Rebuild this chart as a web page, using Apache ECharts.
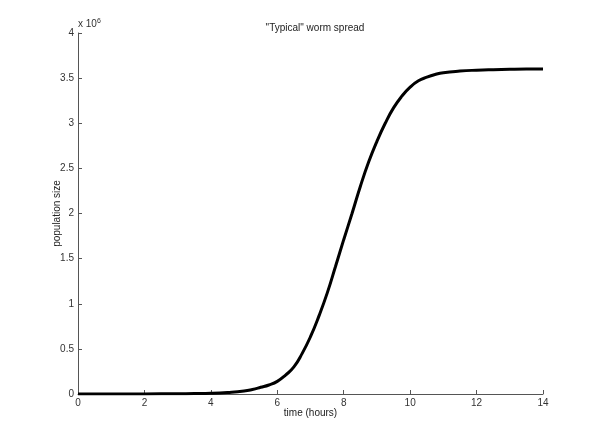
<!DOCTYPE html>
<html>
<head>
<meta charset="utf-8">
<script src="https://cdn.jsdelivr.net/npm/echarts@6/dist/echarts.min.js"></script>
<style>html,body{margin:0;padding:0;background:#fff;}#c{width:600px;height:443px;}</style>
</head>
<body>
<div id="c"></div>
<script>
// time (hours)
var times = [0, 1, 2, 3, 3.5, 4, 4.5, 5, 5.25, 5.5, 5.75, 6, 6.25, 6.5, 6.75, 7, 7.25, 7.5, 7.75, 8, 8.25, 8.5, 8.75, 9, 9.25, 9.5, 9.75, 10, 10.25, 10.5, 10.75, 11, 11.5, 12, 12.5, 13, 13.5, 14];
// population size (x 10^6)
var population = [0.0, 0.0, 0.001, 0.003, 0.005, 0.008, 0.017, 0.033, 0.05, 0.074, 0.10, 0.14, 0.21, 0.30, 0.45, 0.635, 0.86, 1.115, 1.41, 1.71, 2.00, 2.30, 2.57, 2.80, 3.00, 3.17, 3.30, 3.40, 3.47, 3.51, 3.54, 3.56, 3.578, 3.588, 3.594, 3.598, 3.60, 3.60];
var xTicks = [0, 2, 4, 6, 8, 10, 12, 14];
var yTicks = [0, 0.5, 1, 1.5, 2, 2.5, 3, 3.5, 4];

var data = times.map(function (t, i) { return [t, population[i]]; });
var font = 'Liberation Sans, Arial, sans-serif';
var chart = echarts.init(document.getElementById('c'));
chart.setOption({
  animation: false,
  backgroundColor: '#fff',
  title: {
    text: '"Typical" worm spread',
    left: 310, top: 18, textAlign: 'center',
    textStyle: { fontSize: 10, fontWeight: 'normal', color: '#222', fontFamily: font }
  },
  grid: { left: 78, right: 57, top: 33, bottom: 49 },
  xAxis: {
    type: 'value', min: xTicks[0], max: xTicks[xTicks.length - 1], interval: 2,
    name: 'time (hours)', nameLocation: 'middle', nameGap: 14, nameMoveOverlap: false,
    nameTextStyle: { fontSize: 10, color: '#222', fontFamily: font },
    axisLine: { lineStyle: { color: '#555', width: 1 } },
    axisTick: { inside: true, length: 4, lineStyle: { color: '#555' } },
    axisLabel: { fontSize: 10, color: '#333', margin: 4, fontFamily: font },
    splitLine: { show: false }
  },
  yAxis: {
    type: 'value', min: yTicks[0], max: yTicks[yTicks.length - 1], interval: 0.5,
    name: 'population size', nameLocation: 'middle', nameGap: 16, nameRotate: 90, nameMoveOverlap: false,
    nameTextStyle: { fontSize: 10, color: '#222', fontFamily: font },
    axisLine: { show: true, lineStyle: { color: '#555', width: 1 } },
    axisTick: { show: true, inside: true, length: 4, lineStyle: { color: '#555' } },
    axisLabel: { fontSize: 10, color: '#333', margin: 4, fontFamily: font },
    splitLine: { show: false }
  },
  graphic: [{
    type: 'text', left: 78, top: 18,
    style: {
      text: 'x 10{sup|6}',
      fontSize: 10, fill: '#333', fontFamily: font,
      rich: { sup: { fontSize: 7, verticalAlign: 'top', padding: [0, 0, 6, 0], fill: '#333', fontFamily: font } }
    }
  }],
  series: [{
    type: 'line', data: data, smooth: true, showSymbol: false,
    lineStyle: { color: '#000', width: 3 }
  }]
});
</script>
</body>
</html>
